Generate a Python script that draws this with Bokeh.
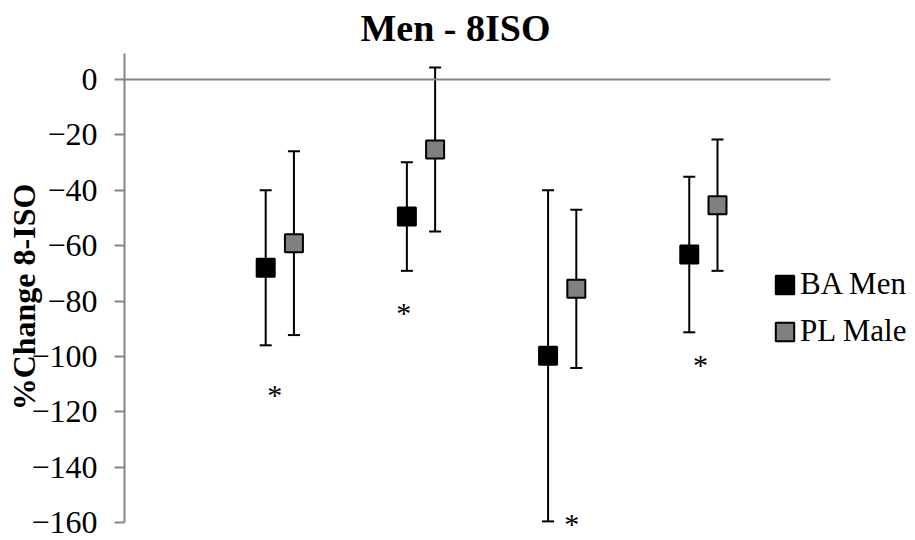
from bokeh.plotting import figure
from bokeh.models import (Range1d, FixedTicker, ColumnDataSource, Whisker, TeeHead,
                          LinearAxis, Legend, LegendItem)
from bokeh.core.properties import value
from bokeh.embed import file_html
from bokeh.resources import INLINE

# ---- data ----
groups = [1, 2, 3, 4]
ba_mean = [-68.0, -49.5, -99.8, -63.2]
ba_sd = [28.0, 19.6, 59.8, 28.1]
pl_mean = [-59.1, -25.3, -75.6, -45.4]
pl_sd = [33.2, 29.6, 28.6, 23.7]
asterisk_x = [0.965, 1.878, 3.067, 3.98]
asterisk_y = [-112.8, -82.9, -159.3, -101.9]
y_ticks = [-160, -140, -120, -100, -80, -60, -40, -20, 0]
y_axis_bounds = (-160, 9.4)
x_axis_bounds = (-0.1, 4.9)
series_names = ["BA Men", "PL Male"]
title_text = "Men - 8ISO"
y_label = "%Change 8-ISO"

FONT = "Liberation Serif"
offset = 0.1

p = figure(width=915, height=540, output_backend="svg", toolbar_location=None,
           x_range=Range1d(-0.1, 5.467), y_range=Range1d(-166.5, 9.4),
           x_axis_location=None, min_border_left=124, min_border_right=5,
           min_border_top=52, min_border_bottom=0)
p.outline_line_color = None
p.grid.visible = False
p.background_fill_color = "white"
p.border_fill_color = "white"

# title
p.title.text = title_text
p.title.text_font = FONT
p.title.text_font_size = "38px"
p.title.text_font_style = "bold"
p.title.align = "left"
p.title.offset = 236
p.title.text_color = "black"
p.title.standoff = 9

# y axis
ax = p.yaxis[0]
ax.ticker = FixedTicker(ticks=y_ticks)
ax.bounds = y_axis_bounds
ax.axis_line_color = "#868686"
ax.axis_line_width = 2
ax.major_tick_line_color = "#868686"
ax.major_tick_line_width = 2
ax.major_tick_out = 10
ax.major_tick_in = 0
ax.minor_tick_line_color = None
ax.major_label_text_font = FONT
ax.major_label_text_font_size = "32px"
ax.major_label_text_color = "black"
ax.major_label_standoff = 17
ax.axis_label = y_label
ax.axis_label_text_font = FONT
ax.axis_label_text_font_size = "32px"
ax.axis_label_text_font_style = "bold"
ax.axis_label_text_color = "black"
ax.axis_label_standoff = -14

# horizontal (category) axis crossing at zero, no ticks or labels
xax = LinearAxis(fixed_location=0, bounds=x_axis_bounds, ticker=FixedTicker(ticks=[]),
                 axis_line_color="#868686", axis_line_width=2,
                 major_tick_in=0, major_tick_out=0, minor_tick_in=0, minor_tick_out=0,
                 major_label_standoff=0)
p.add_layout(xax, "below")

ba_x = [g - offset for g in groups]
pl_x = [g + offset for g in groups]
ba_src = ColumnDataSource(dict(x=ba_x, y=ba_mean,
                               upper=[m + s for m, s in zip(ba_mean, ba_sd)],
                               lower=[m - s for m, s in zip(ba_mean, ba_sd)]))
pl_src = ColumnDataSource(dict(x=pl_x, y=pl_mean,
                               upper=[m + s for m, s in zip(pl_mean, pl_sd)],
                               lower=[m - s for m, s in zip(pl_mean, pl_sd)]))

for src in (ba_src, pl_src):
    w = Whisker(base="x", upper="upper", lower="lower", source=src,
                line_color="black", line_width=2, level="underlay",
                upper_head=TeeHead(size=12, line_color="black", line_width=2),
                lower_head=TeeHead(size=12, line_color="black", line_width=2))
    p.add_layout(w)

r_ba = p.rect(x="x", y="y", width=18, height=18, width_units="screen",
              height_units="screen", source=ba_src, fill_color="black",
              line_color="black", line_width=2)
r_pl = p.rect(x="x", y="y", width=18, height=18, width_units="screen",
              height_units="screen", source=pl_src, fill_color="#808080",
              line_color="black", line_width=2)

p.text(x=asterisk_x, y=asterisk_y, text=["*"] * len(asterisk_x),
       text_font=value(FONT), text_font_size="30px", text_color="black",
       text_align="center", text_baseline="alphabetic", y_offset=3)

legend = Legend(items=[LegendItem(label=series_names[0], renderers=[r_ba]),
                       LegendItem(label=series_names[1], renderers=[r_pl])],
                location=(649, 191), glyph_width=23, glyph_height=23,
                label_text_font=FONT, label_text_font_size="31px",
                label_text_color="black", label_standoff=4, label_height=23,
                spacing=11, padding=0, margin=0, border_line_color=None,
                background_fill_alpha=0)
p.add_layout(legend)

open("out.html", "w").write(file_html(p, INLINE))
